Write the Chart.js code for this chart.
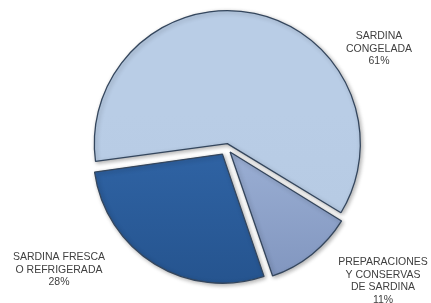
<!DOCTYPE html>
<html>
<head>
<meta charset="utf-8">
<script src="https://cdn.jsdelivr.net/npm/chart.js@4/dist/chart.umd.min.js"></script>
<style>
  html, body { margin: 0; padding: 0; background: #fff; }
  #wrap { width: 431px; height: 303px; }
</style>
</head>
<body>
<div id="wrap"><canvas id="myChart"></canvas></div>
<script>
// Data, clockwise from the start angle
const categories = [
    ['SARDINA', 'CONGELADA'],
    ['PREPARACIONES', 'Y CONSERVAS', 'DE SARDINA'],
    ['SARDINA FRESCA', 'O REFRIGERADA']
]
const shares = [61, 11, 28]

// top and bottom colour of each slice (vertical gradient)
const sliceColors = [
    ['#b9cde6', '#b5c9e2'],
    ['#a0b4d8', '#7d92bc'],
    ['#3166a8', '#24528c']
]

// Chart.js moves a slice by only part of its "offset" (depends on slice size),
// these give roughly 8px of explode for each one
const sliceOffsets = [16, 23, 31]

// where each label block is centred (first line)
const labelSpots = [
    { x: 379, y: 36 },
    { x: 383, y: 262 },
    { x: 59, y: 257 }
]

// soft shadow under the slices
const shadowPlugin = {
    id: 'shadow',
    beforeDatasetDraw(chart) {
        const ctx = chart.ctx
        ctx.save()
        ctx.shadowColor = 'rgba(0, 0, 0, 0.3)'
        ctx.shadowBlur = 4
        ctx.shadowOffsetX = 1.5
        ctx.shadowOffsetY = 1.5
    },
    afterDatasetDraw(chart) {
        chart.ctx.restore()
    }
}

// category + percent text beside each slice
const labelPlugin = {
    id: 'sliceLabels',
    afterDraw(chart) {
        const ctx = chart.ctx
        const total = shares.reduce((a, b) => a + b, 0)
        ctx.save()
        ctx.font = '10.5px "Liberation Sans", Arial, sans-serif'
        ctx.fillStyle = '#404040'
        ctx.textAlign = 'center'
        ctx.textBaseline = 'middle'
        categories.forEach(function (lines, i) {
            const all = lines.concat([Math.round(shares[i] / total * 100) + '%'])
            all.forEach(function (txt, j) {
                ctx.fillText(txt, labelSpots[i].x, labelSpots[i].y + j * 12.8)
            })
        })
        ctx.restore()
    }
}

var ctx = document.getElementById('myChart').getContext('2d')

var myChart = new Chart(ctx, {
    type: 'pie',
    data: {
        labels: categories.map(l => l.join(' ')),
        datasets: [{
            data: shares,
            radius: 129,
            offset: sliceOffsets,
            borderWidth: 1.3,
            borderColor: '#34465d',
            backgroundColor: function (context) {
                const area = context.chart.chartArea
                const c = sliceColors[context.dataIndex % sliceColors.length]
                if (!area) {
                    return c[0]
                }
                const g = context.chart.ctx.createLinearGradient(0, area.top, 0, area.bottom)
                g.addColorStop(0.4, c[0])
                g.addColorStop(1, c[1])
                return g
            }
        }]
    },
    options: {
        responsive: true,
        maintainAspectRatio: false,
        animation: false,
        rotation: 262,
        layout: {
            padding: { left: 22, right: 0, top: 0, bottom: 8 }
        },
        plugins: {
            legend: { display: false },
            tooltip: { enabled: false }
        }
    },
    plugins: [shadowPlugin, labelPlugin]
})
</script>
</body>
</html>
